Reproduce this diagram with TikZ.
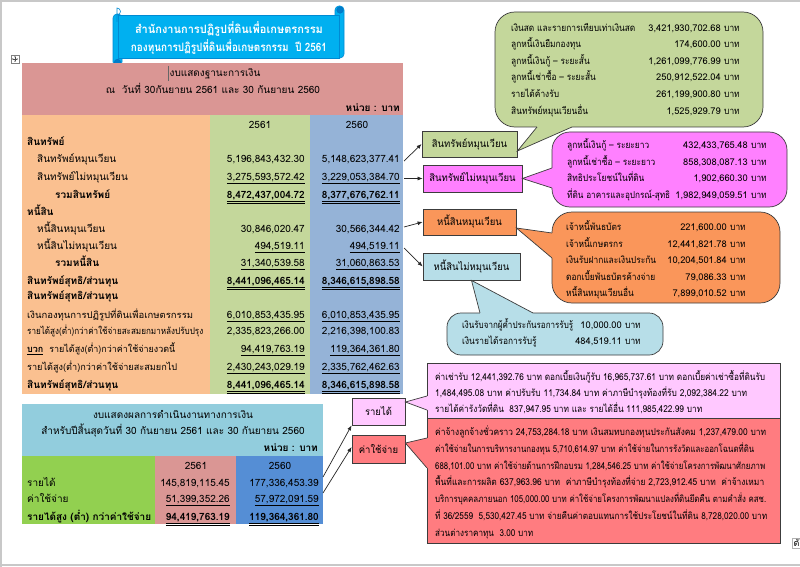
\documentclass[tikz,border=0pt]{standalone}
\usepackage{graphicx}
\usepackage{fontspec}
\setmainfont[Script=Thai]{Loma}
\newfontfamily\thaiA[Script=Thai,FakeStretch=0.95]{Loma}
\newfontfamily\thaiB[Script=Thai,FakeStretch=0.88]{Loma}
\usetikzlibrary{arrows.meta,calc}
\definecolor{hdrpink}{RGB}{218,150,148}
\definecolor{colorange}{RGB}{250,192,144}
\definecolor{colgreen}{RGB}{196,215,155}
\definecolor{colblue}{RGB}{149,179,215}
\definecolor{hdrblue}{RGB}{146,205,221}
\definecolor{brgreen}{RGB}{146,208,80}
\definecolor{midblue}{RGB}{85,142,213}
\definecolor{banner}{RGB}{0,176,240}
\definecolor{bannerdk}{RGB}{0,112,192}
\definecolor{boxgreen}{RGB}{196,215,155}
\definecolor{boxmag}{RGB}{255,128,255}
\definecolor{boxorange}{RGB}{250,150,90}
\definecolor{boxlblue}{RGB}{183,222,232}
\definecolor{boxpink}{RGB}{255,200,255}
\definecolor{boxred}{RGB}{255,124,128}
\definecolor{boxline}{RGB}{60,60,60}
\definecolor{framegray}{RGB}{200,200,200}
\newcommand{\ulx}[1]{\underline{#1}}
\newcommand{\uulx}[1]{\underline{\underline{#1}}}
\newcommand{\callwedge}[5]{%
  \fill[#1] #2 -- #3 -- #4 -- ($#4+#5$) -- ($#2+#5$) -- cycle;
  \draw[boxline, line width=0.7pt] #2 -- #3 -- #4;}
\newcommand{\crow}[6]{% name, xl, y, label, xr, value
  \node[inner sep=0pt, anchor=base west, font=\fontsize{9.5}{12}\thaiB] (#1l) at (#2,#3) {#4};
  \node[inner sep=0pt, anchor=base east, font=\fontsize{9.3}{12}\selectfont] (#1v) at (#5,#3) {#6};
  \node[inner sep=0pt, anchor=base west, font=\fontsize{9.5}{12}\thaiB] (#1u) at (#5+3,#3) {บาท};}
\newcommand{\fitw}[2]{\resizebox{#1pt}{\height}{#2}}
\tikzset{
  lbl/.style={inner sep=0pt, font=\fontsize{10}{12}\selectfont, anchor=base west},
  lblb/.style={inner sep=0pt, font=\fontsize{10}{12}\selectfont\bfseries, anchor=base west},
  lbls/.style={inner sep=0pt, font=\fontsize{9.3}{12}\thaiA, anchor=base west},
  num/.style={inner sep=0pt, font=\fontsize{10}{12}\selectfont, anchor=base east},
  numb/.style={inner sep=0pt, font=\fontsize{10}{12}\selectfont\bfseries, anchor=base east},
  ctr/.style={inner sep=0pt, font=\fontsize{10}{12}\selectfont, anchor=base},
  rgt/.style={inner sep=0pt, font=\fontsize{10}{12}\selectfont\bfseries, anchor=base east},
  ttl/.style={inner sep=0pt, anchor=base, text=white, font=\fontsize{11.5}{14}\selectfont\bfseries},
  boxn/.style={draw=boxline, line width=0.8pt, inner sep=0pt, font=\fontsize{10}{12}\thaiA},
  callbox/.style={draw=boxline, line width=0.7pt, inner sep=0pt},
  ptxt/.style={inner sep=0pt, font=\fontsize{9.5}{12}\selectfont, anchor=base west},
  scroll/.style={fill=banner, draw=bannerdk!60!banner, line width=0.6pt},
  conn/.style={line width=0.7pt, draw=black!85, -{Latex[length=5pt,width=4pt]}},
}
\begin{document}
\begin{tikzpicture}[x=1pt,y=-1pt]
\useasboundingbox (0,0) rectangle (800,567);
\fill[white] (0,0) rectangle (800,567);
% page frame
\draw[framegray, line width=1.5pt] (0,1) -- (800,1);
\draw[framegray, line width=1.5pt] (1,0) -- (1,567);
\draw[framegray, line width=1.5pt] (0,565) -- (800,565);

% ---------- banner (horizontal scroll) ----------
\filldraw[scroll, rounded corners=4pt] (335,6) rectangle (344,58);
\filldraw[scroll, rounded corners=4pt] (113,14) rectangle (122,66);
\filldraw[scroll] (118,15) rectangle (339,58);
\filldraw[fill=bannerdk!80!banner, draw=bannerdk, line width=0.4pt] (340,10) circle (3.3);
\filldraw[fill=bannerdk!80!banner, draw=bannerdk, line width=0.4pt] (117.5,62.5) circle (3.3);
\draw[bannerdk!60!banner, line width=0.6pt] (117,15) arc[start angle=90, end angle=-90, radius=3.5] -- (117,22);
\node[ttl] (title1) at (229,33.5) {\fitw{188}{สำนักงานการปฏิรูปที่ดินเพื่อเกษตรกรรม}};
\node[ttl] (title2) at (229,51.5) {\fitw{196}{กองทุนการปฏิรูปที่ดินเพื่อเกษตรกรรม\ \ ปี 2561}};

% move handle
\node[draw=gray, fill=white, minimum size=8pt, inner sep=0pt] (hdl) at (15,59) {};
\draw[black!70, line width=0.4pt, {Latex[length=1.2pt,width=1.6pt]}-{Latex[length=1.2pt,width=1.6pt]}] (hdl.center) ++(-3,0) -- ++(6,0);
\draw[black!70, line width=0.4pt, {Latex[length=1.2pt,width=1.6pt]}-{Latex[length=1.2pt,width=1.6pt]}] (hdl.center) ++(0,-3) -- ++(0,6);

% ---------- table 1 ----------
\fill[hdrpink] (22,63) rectangle (403,115);
\fill[colorange] (22,115) rectangle (210,394);
\fill[colgreen] (210,115) rectangle (310,394);
\fill[colblue] (310,115) rectangle (403,394);
\draw[black!60, line width=0.8pt] (168.5,66) -- (168.5,81);
\node[ctr] (h1) at (215,76.5) {งบแสดงฐานะการเงิน};
\node[ctr] (h2) at (213,93.5) {ณ\ \ วันที่ 30กันยายน 2561 และ 30 กันยายน 2560};
\node[rgt] (h3) at (400,111.5) {หน่วย : บาท};
\node[ctr] (y1) at (260,128.5) {2561};
\node[ctr] (y2) at (357,128.5) {2560};

\node[lblb] (r1) at (27,145.5) {สินทรัพย์};
\node[lbl] (r2) at (37,162.5) {สินทรัพย์หมุนเวียน};
\node[num] (r2a) at (305,162.5) {5,196,843,432.30};
\node[num] (r2b) at (400,162.5) {5,148,623,377.41};
\node[lbl] (r3) at (37,180.5) {สินทรัพย์ไม่หมุนเวียน};
\node[num] (r3a) at (305,180.5) {\ulx{3,275,593,572.42}};
\node[num] (r3b) at (400,180.5) {\ulx{3,229,053,384.70}};
\node[lblb] (r4) at (55,198.5) {รวมสินทรัพย์};
\node[numb] (r4a) at (305,198.5) {\uulx{8,472,437,004.72}};
\node[numb] (r4b) at (400,198.5) {\uulx{8,377,676,762.11}};
\node[lblb] (r5) at (27,215.5) {หนี้สิน};
\node[lbl] (r6) at (37,232.5) {หนี้สินหมุนเวียน};
\node[num] (r6a) at (305,232.5) {30,846,020.47};
\node[num] (r6b) at (400,232.5) {30,566,344.42};
\node[lbl] (r7) at (37,249.5) {หนี้สินไม่หมุนเวียน};
\node[num] (r7a) at (305,249.5) {\ulx{494,519.11}};
\node[num] (r7b) at (400,249.5) {\ulx{494,519.11}};
\node[lblb] (r8) at (55,266.5) {รวมหนี้สิน};
\node[num] (r8a) at (305,266.5) {\ulx{31,340,539.58}};
\node[num] (r8b) at (400,266.5) {\ulx{31,060,863.53}};
\node[lblb] (r9) at (27,284.5) {สินทรัพย์สุทธิ/ส่วนทุน};
\node[numb] (r9a) at (305,284.5) {\uulx{8,441,096,465.14}};
\node[numb] (r9b) at (400,284.5) {\uulx{8,346,615,898.58}};
\node[lblb] (r10) at (27,299.5) {สินทรัพย์สุทธิ/ส่วนทุน};
\node[lbls] (r11) at (27,318.5) {\fitw{166}{เงินกองทุนการปฏิรูปที่ดินเพื่อเกษตรกรรม}};
\node[num] (r11a) at (305,318.5) {\ulx{6,010,853,435.95}};
\node[num] (r11b) at (400,318.5) {\ulx{6,010,853,435.95}};
\node[lbls] (r12) at (27,334.5) {\fitw{176}{รายได้สูง(ต่ำ)กว่าค่าใช้จ่ายสะสมยกมาหลังปรับปรุง}};
\node[num] (r12a) at (305,334.5) {2,335,823,266.00};
\node[num] (r12b) at (400,334.5) {2,216,398,100.83};
\node[lbls] (r13) at (27,352.5) {\fitw{148}{\ulx{\bfseries บวก}\ \ รายได้สูง(ต่ำ)กว่าค่าใช้จ่ายงวดนี้}};
\node[num] (r13a) at (305,352.5) {\ulx{94,419,763.19}};
\node[num] (r13b) at (400,352.5) {\ulx{119,364,361.80}};
\node[lbls] (r14) at (27,370.5) {\fitw{150}{รายได้สูง(ต่ำ)กว่าค่าใช้จ่ายสะสมยกไป}};
\node[num] (r14a) at (305,370.5) {\ulx{2,430,243,029.19}};
\node[num] (r14b) at (400,370.5) {\ulx{2,335,762,462.63}};
\node[lblb] (r15) at (27,388.5) {สินทรัพย์สุทธิ/ส่วนทุน};
\node[numb] (r15a) at (305,388.5) {\uulx{8,441,096,465.14}};
\node[numb] (r15b) at (400,388.5) {\uulx{8,346,615,898.58}};

% ---------- table 2 ----------
\fill[hdrblue] (22,404) rectangle (323,456);
\fill[brgreen] (22,456) rectangle (155,524);
\fill[hdrpink] (155,456) rectangle (236,524);
\fill[midblue] (236,456) rectangle (323,524);
\node[ctr] (g1) at (173,418.5) {งบแสดงผลการดำเนินงานทางการเงิน};
\node[ctr] (g2) at (173,434.5) {สำหรับปีสิ้นสุดวันที่ 30 กันยายน 2561 และ 30 กันยายน 2560};
\node[rgt] (g3) at (318,451.5) {หน่วย : บาท};
\node[ctr] (z1) at (196,469.5) {2561};
\node[ctr] (z2) at (280,469.5) {2560};
\node[lbl] (s1) at (27,486.5) {รายได้};
\node[num] (s1a) at (230,486.5) {145,819,115.45};
\node[num] (s1b) at (319,486.5) {177,336,453.39};
\node[lbl] (s2) at (27,502.5) {ค่าใช้จ่าย};
\node[num] (s2a) at (230,502.5) {\ulx{51,399,352.26}};
\node[num] (s2b) at (319,502.5) {\ulx{57,972,091.59}};
\node[lblb] (s3) at (27,520.5) {รายได้สูง (ต่ำ) กว่าค่าใช้จ่าย};
\node[numb] (s3a) at (230,520.5) {\uulx{94,419,763.19}};
\node[numb] (s3b) at (319,520.5) {\uulx{119,364,361.80}};

% ---------- category boxes ----------
\node[boxn, fill=boxgreen, minimum width=95pt, minimum height=26pt] (bA) at (469.5,144) {สินทรัพย์หมุนเวียน};
\node[boxn, fill=boxmag, minimum width=99pt, minimum height=27pt] (bB) at (472.5,178.5) {สินทรัพย์ไม่หมุนเวียน};
\node[boxn, fill=boxorange, minimum width=93pt, minimum height=26pt] (bC) at (469.5,222) {หนี้สินหมุนเวียน};
\node[boxn, fill=boxlblue, minimum width=97pt, minimum height=27pt] (bD) at (471.5,266.5) {หนี้สินไม่หมุนเวียน};
\node[boxn, fill=boxpink, minimum width=53pt, minimum height=27pt] (bE) at (378.5,411.5) {รายได้};
\node[boxn, fill=boxred, minimum width=53pt, minimum height=28pt] (bF) at (378.5,449) {ค่าใช้จ่าย};

% connectors
\coordinate (sA) at (404,161);
\coordinate (sB) at (404,178.5);
\coordinate (sC) at (404,227);
\coordinate (sD) at (404,248);
\coordinate (sE) at (323,477);
\coordinate (sF) at (323,493);
\draw[conn] (sA) -- (bA.west);
\draw[conn] (sB) -- (bB.west);
\draw[conn] (sC) -- (bC.west);
\draw[conn] (sD) -- (bD.west);
\draw[conn] (sE) -- (bE.south west);
\draw[conn] (sF) -- ($(bF.west)+(0,-2)$);

% ---------- callouts ----------
% green
\node[callbox, fill=boxgreen, rounded corners=20pt, minimum width=268pt, minimum height=115pt] (cA) at (629,69.5) {};
\coordinate (tA) at ($(bA.east)+(0,7)$);
\callwedge{boxgreen}{(537,127)}{(tA)}{(572,127)}{(0,-1.5)}
\crow{ga}{511}{31.5}{เงินสด และรายการเทียบเท่าเงินสด}{721}{3,421,930,702.68}
\crow{gb}{511}{48}{ลูกหนี้เงินยืมกองทุน}{721}{174,600.00}
\crow{gc}{511}{64.5}{ลูกหนี้เงินกู้ – ระยะสั้น}{721}{1,261,099,776.99}
\crow{gd}{511}{81}{ลูกหนี้เช่าซื้อ – ระยะสั้น}{721}{250,912,522.04}
\crow{ge}{511}{97.5}{รายได้ค้างรับ}{721}{261,199,900.80}
\crow{gf}{511}{114}{สินทรัพย์หมุนเวียนอื่น}{721}{1,525,929.79}

% magenta
\node[callbox, fill=boxmag, rounded corners=18pt, minimum width=235pt, minimum height=75pt] (cB) at (669.5,169.5) {};
\coordinate (tB) at (bB.east);
\callwedge{boxmag}{(552,168)}{(tB)}{(552,188)}{(1.5,0)}
\crow{ma}{567}{148.5}{ลูกหนี้เงินกู้ – ระยะยาว}{748}{432,433,765.48}
\crow{mb}{567}{165}{ลูกหนี้เช่าซื้อ – ระยะยาว}{748}{858,308,087.13}
\crow{mc}{567}{181.5}{สิทธิประโยชน์ในที่ดิน}{748}{1,902,660.30}
\crow{md}{567}{198}{\fitw{103}{ที่ดิน อาคารและอุปกรณ์-สุทธิ}}{748}{1,982,949,059.51}

% orange
\node[callbox, fill=boxorange, rounded corners=20pt, minimum width=228pt, minimum height=91pt] (cC) at (666,257.5) {};
\coordinate (tC) at ($(bC.east)+(0,6)$);
\callwedge{boxorange}{(552,233)}{(tC)}{(552,258)}{(1.5,0)}
\crow{oa}{566}{230.5}{เจ้าหนี้พันธบัตร}{727}{221,600.00}
\crow{ob}{566}{247}{เจ้าหนี้เกษตรกร}{727}{12,441,821.78}
\crow{oc}{566}{263.5}{เงินรับฝากและเงินประกัน}{727}{10,204,501.84}
\crow{od}{566}{280}{ดอกเบี้ยพันธบัตรค้างจ่าย}{727}{79,086.33}
\crow{oe}{566}{296}{หนี้สินหมุนเวียนอื่น}{727}{7,899,010.52}

% light blue
\node[callbox, fill=boxlblue, rounded corners=14pt, minimum width=216pt, minimum height=42pt] (cD) at (555,334) {};
\coordinate (tD) at (bD.south);
\callwedge{boxlblue}{(480,313)}{(tD)}{(533,313)}{(0,1.5)}
\crow{la}{462}{328.5}{\fitw{111}{เงินรับจากผู้ค้ำประกันรอการรับรู้}}{622}{10,000.00}
\crow{lb}{462}{344.5}{เงินรายได้รอการรับรู้}{622}{484,519.11}

% pink (revenue)
\node[callbox, fill=boxpink, minimum width=353pt, minimum height=55pt] (cE) at (603.5,390.5) {};
\coordinate (tE) at ($(bE.east)+(0,-9.5)$);
\callwedge{boxpink}{(427,396)}{(tE)}{(427,410)}{(1.5,0)}
\node[ptxt] (pe1) at (435,380.5) {\fitw{330}{ค่าเช่ารับ 12,441,392.76 บาท ดอกเบี้ยเงินกู้รับ 16,965,737.61 บาท ดอกเบี้ยค่าเช่าซื้อที่ดินรับ}};
\node[ptxt] (pe2) at (435,396.5) {\fitw{312}{1,484,495.08 บาท ค่าปรับรับ 11,734.84 บาท ค่าภาษีบำรุงท้องที่รับ 2,092,384.22 บาท}};
\node[ptxt] (pe3) at (435,412.5) {\fitw{267}{รายได้ค่ารังวัดที่ดิน\ \ 837,947.95 บาท และ รายได้อื่น 111,985,422.99 บาท}};

% red (expenses)
\node[callbox, fill=boxred, minimum width=353pt, minimum height=125pt] (cF) at (603.5,480.5) {};
\coordinate (tF) at ($(bF.east)+(0,-6)$);
\callwedge{boxred}{(427,438)}{(tF)}{(427,468)}{(1.5,0)}
\node[ptxt] (pf1) at (435,435.5) {\fitw{331}{ค่าจ้างลูกจ้างชั่วคราว 24,753,284.18 บาท เงินสมทบกองทุนประกันสังคม 1,237,479.00 บาท}};
\node[ptxt] (pf2) at (435,452.3) {\fitw{319}{ค่าใช้จ่ายในการบริหารงานกองทุน 5,710,614.97 บาท ค่าใช้จ่ายในการรังวัดและออกโฉนดที่ดิน}};
\node[ptxt] (pf3) at (435,469.1) {\fitw{330}{688,101.00 บาท ค่าใช้จ่ายด้านการฝึกอบรม 1,284,546.25 บาท ค่าใช้จ่ายโครงการพัฒนาศักยภาพ}};
\node[ptxt] (pf4) at (435,485.9) {\fitw{329}{พื้นที่และการผลิต 637,963.96 บาท\ \ ค่าภาษีบำรุงท้องที่จ่าย 2,723,912.45 บาท\ \ ค่าจ้างเหมา}};
\node[ptxt] (pf5) at (435,502.7) {\fitw{331}{บริการบุคคลภายนอก 105,000.00 บาท ค่าใช้จ่ายโครงการพัฒนาแปลงที่ดินยึดคืน ตามคำสั่ง คสช.}};
\node[ptxt] (pf6) at (435,519.5) {\fitw{332}{ที่ 36/2559\ \ 5,530,427.45 บาท จ่ายคืนค่าตอบแทนการใช้ประโยชน์ในที่ดิน 8,728,020.00 บาท}};
\node[ptxt] (pf7) at (435,536.3) {\fitw{98}{ส่วนต่างราคาทุน\ \ 3.00 บาท}};

% small tab at right edge
\node[draw=gray!60, fill=white, inner sep=1.5pt, anchor=north west, font=\fontsize{9}{10}\selectfont] (tab) at (792,538) {ดั};
\end{tikzpicture}
\end{document}
